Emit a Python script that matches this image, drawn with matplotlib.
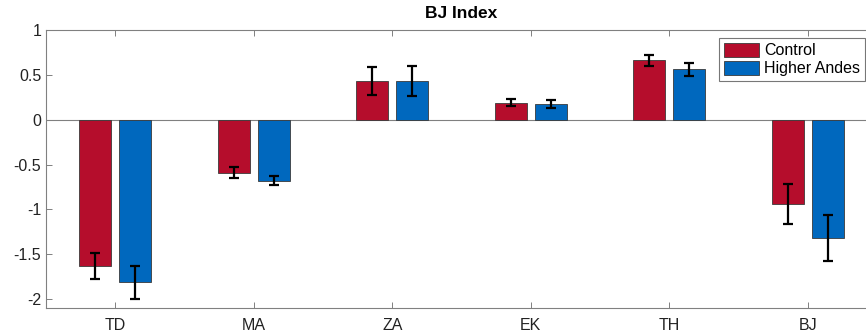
import matplotlib.pyplot as plt
import numpy as np

plt.rcParams["font.family"] = ["Liberation Sans", "DejaVu Sans"]

# ─── Data ────────────────────────────────────────────────────────────────────
categories = ["TD", "MA", "ZA", "EK", "TH", "BJ"]
control = [-1.63, -0.59, 0.43, 0.19, 0.66, -0.94]
control_err = [0.145, 0.06, 0.155, 0.04, 0.057, 0.228]
andes = [-1.815, -0.68, 0.43, 0.18, 0.56, -1.32]
andes_err = [0.185, 0.05, 0.17, 0.045, 0.074, 0.258]
yticks = [1, 0.5, 0, -0.5, -1, -1.5, -2]

RED = "#B50D2C"
BLUE = "#0068BE"

fig = plt.figure(figsize=(8.66, 3.34), dpi=100)
ax = fig.add_axes([46 / 866, 1 - 308 / 334, (877 - 46) / 866, (308 - 30) / 334])

x = np.arange(1, len(categories) + 1)
off = 0.144
w = 0.23
ax.bar(x - off, control, w, color=RED, edgecolor="#3a3a3a", linewidth=0.6, label="Control", zorder=2)
ax.bar(x + off, andes, w, color=BLUE, edgecolor="#3a3a3a", linewidth=0.6, label="Higher Andes", zorder=2)
ekw = dict(fmt="none", ecolor="black", elinewidth=1.6, capsize=3.6, capthick=1.6, zorder=3)
ax.errorbar(x - off, control, yerr=control_err, **ekw)
ax.errorbar(x + off, andes, yerr=andes_err, **ekw)
ax.axhline(0, color="#808080", linewidth=0.8, zorder=1)

ax.set_xlim(0.5, 6.5)
ax.set_ylim(-2.1, 1)
ax.set_xticks(x)
ax.set_xticklabels(categories)
ax.set_yticks(yticks)
ax.set_yticklabels([f"{v:g}" for v in yticks])
ax.tick_params(direction="in", top=True, right=True, length=4, width=0.7,
               color="#808080", labelsize=11.5, labelcolor="#222222")
ax.tick_params(axis="x", pad=7)
for s in ax.spines.values():
    s.set_color("#808080")
    s.set_linewidth(0.8)

ax.set_title("BJ Index", fontsize=12.5, fontweight="bold", pad=9)

leg = ax.legend(loc="upper right", bbox_to_anchor=(865 / 866, 1 - 38 / 334),
                bbox_transform=fig.transFigure, fontsize=11.5, frameon=True,
                fancybox=False, edgecolor="#555555", handlelength=2.2,
                handleheight=1.0, handletextpad=0.3, borderpad=0.3,
                labelspacing=0.15, borderaxespad=0)
leg.get_frame().set_linewidth(0.8)

fig.savefig("out.png", dpi=100)
